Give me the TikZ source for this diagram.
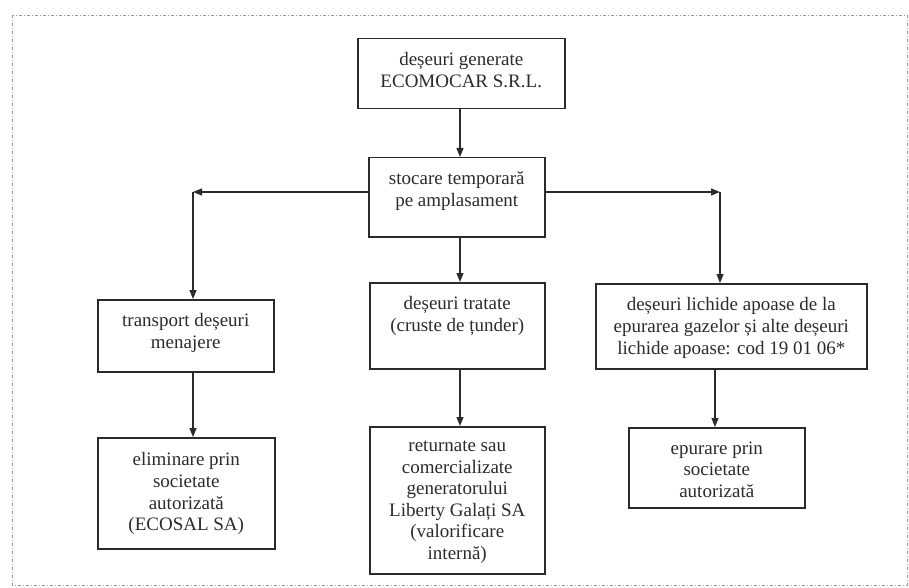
\documentclass[tikz,border=0pt]{standalone}
\usepackage{fontspec}
\setmainfont{Liberation Serif}
\usetikzlibrary{arrows.meta}
\definecolor{ink}{HTML}{2B2B2B}
\definecolor{frame}{HTML}{9A9A9A}
\newcommand{\bxt}[4]{\parbox[c][#2pt][t]{#1pt}{\centering\vspace*{#3pt}#4}}
\tikzset{
  box/.style={draw=ink, line width=1.5pt, inner sep=0pt, anchor=north west, text=ink,
    font=\fontsize{19}{21.6}\selectfont},
  arr/.style={draw=ink, line width=1.2pt, -{Triangle[length=9pt,width=7pt]}}
}
\begin{document}
\begin{tikzpicture}[x=1pt,y=-1pt]
\useasboundingbox (0,0) rectangle (909,588);
\draw[frame, line width=0.9pt, dash pattern=on 3pt off 2pt on 1pt off 2pt] (12,15) rectangle (907,585);
% boxes
\node[box] (b1) at (357,38) {\bxt{207}{70}{14}{deșeuri generate\\ECOMOCAR S.R.L.}};
\node[box] (b2) at (368,157) {\bxt{176}{79}{14}{stocare temporară\\pe amplasament}};
\node[box] (bL1) at (97,299) {\bxt{176}{72}{14}{transport deșeuri\\menajere}};
\node[box] (bM1) at (369,282) {\bxt{175}{86}{14}{deșeuri tratate\\(cruste de țunder)}};
\node[box] (bR1) at (595,283) {\bxt{271}{85}{14}{deșeuri lichide apoase de la\\epurarea gazelor și alte deșeuri\\lichide apoase: cod 19 01 06*}};
\node[box] (bL2) at (97,437) {\bxt{177}{111}{15}{eliminare prin\\societate\\autorizată\\(ECOSAL SA)}};
\node[box] (bM2) at (369,426) {\bxt{175}{147}{14}{returnate sau\\comercializate\\generatorului\\Liberty Galați SA\\(valorificare\\internă)}};
\node[box] (bR2) at (628,427) {\bxt{176}{80}{14}{epurare prin\\societate\\autorizată}};
% junction points
\coordinate (cL) at (193,192);
\coordinate (cR) at (720,192);
\coordinate (xM) at (460,0);
\coordinate (xR) at (715,0);
% connectors
\draw[arr] (b1.south -| xM) -- (b2.north -| xM);
\draw[arr] (b2.west |- cL) -- (cL);
\draw[arr] (b2.east |- cR) -- (cR);
\draw[arr] (cL) -- (cL |- bL1.north);
\draw[arr] (cR) -- (cR |- bR1.north);
\draw[arr] (b2.south -| xM) -- (bM1.north -| xM);
\draw[arr] (bL1.south -| cL) -- (bL2.north -| cL);
\draw[arr] (bM1.south -| xM) -- (bM2.north -| xM);
\draw[arr] (bR1.south -| xR) -- (bR2.north -| xR);
\end{tikzpicture}
\end{document}
